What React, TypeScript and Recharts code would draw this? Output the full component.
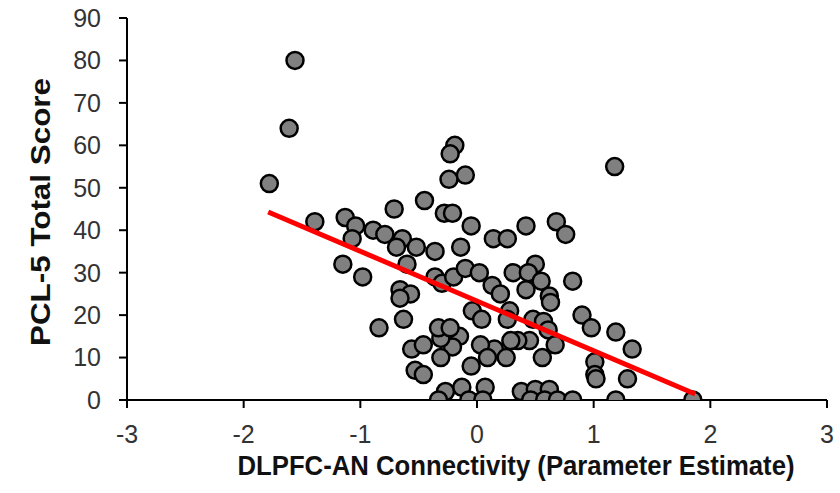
import React from 'react';
import { ScatterChart, Scatter, XAxis, YAxis, Label } from 'recharts';

// DLPFC-AN connectivity (x) and PCL-5 total score (y), one entry per participant
const connectivity = [
    -1.56, -1.61, -1.78, -0.19, -0.23, -0.24, -0.10, -0.45, -0.71, -0.28,
    -0.21, -0.05, 0.42, -1.39, -1.13, -1.04, -1.07, -0.89, -0.79, -0.64,
    -0.69, -0.52, -0.36, -0.14, 0.14, 0.26, 0.68, 0.76, 1.18, -1.15,
    -0.98, -0.60, -0.66, -0.57, -0.66, -0.36, -0.30, -0.20, -0.10, 0.02,
    0.13, 0.20, 0.31, 0.50, 0.44, 0.55, 0.42, 0.62, 0.63, 0.82,
    -0.04, 0.04, 0.28, 0.26, 0.48, 0.57, 0.61, 0.90, 0.98, 1.19,
    1.33, 1.01, 1.01, 1.02, 1.29, 0.67, 0.56, 0.45, 0.35, 0.29,
    0.15, 0.03, 0.09, 0.25, -0.05, -0.15, -0.21, -0.31, -0.31, -0.33,
    -0.23, -0.84, -0.63, -0.56, -0.46, -0.53, -0.46, -0.27, -0.13, 0.07,
    0.38, 0.50, 0.62, -0.33, -0.07, 0.05, 0.46, 0.58, 0.69, 0.82,
    1.19, 1.85
];
const pclScore = [
    80, 64, 51, 60, 58, 52, 53, 47, 45, 44,
    44, 41, 41, 42, 43, 41, 38, 40, 39, 38,
    36, 36, 35, 36, 38, 38, 42, 39, 55, 32,
    29, 32, 26, 25, 24, 29, 27.5, 29, 31, 30,
    27, 25, 30, 32, 30, 28, 26, 24.5, 23, 28,
    21, 19, 21, 19, 19, 18.5, 16.5, 20, 17, 16,
    12, 9, 6, 5, 5, 13, 10, 14, 14, 14,
    12, 13, 10, 10, 8, 15, 12.5, 14.5, 10, 17,
    17, 17, 19, 12, 13, 7, 6, 2, 3, 3,
    2, 2.5, 2.5, 0, 0, 0, 0, 0, 0, 0,
    0, 0
];

// fitted regression line end points
const trendX = [-1.79, 1.87];
const trendY = [44.3, 1.4];

const xTicks = [-3, -2, -1, 0, 1, 2, 3];
const yTicks = [0, 10, 20, 30, 40, 50, 60, 70, 80, 90];

const points = connectivity.map((x, i) => ({ x, y: pclScore[i] }));
const trend = trendX.map((x, i) => ({ x, y: trendY[i] }));

const font = '"Liberation Sans", Arial, sans-serif';

const Dot = (props: any) => (
    <circle cx={props.cx} cy={props.cy} r={8.5} fill="#808080" stroke="#000" strokeWidth={2.5} />
);

const NoShape = () => <g />;

export default function App() {
    return (
        <div style={{ position: 'absolute', left: 0, top: 0, width: 840, height: 493, background: '#fff' }}>
            <ScatterChart width={840} height={493} margin={{ top: 18, right: 13, bottom: 0, left: 0 }}>
                <XAxis
                    type="number"
                    dataKey="x"
                    domain={[-3, 3]}
                    ticks={xTicks}
                    height={93}
                    axisLine={{ stroke: '#000', strokeWidth: 2 }}
                    tickLine={{ stroke: '#000', strokeWidth: 2 }}
                    tickSize={8}
                    tickMargin={17}
                    tick={{ fill: '#333', fontSize: 25, fontFamily: font }}
                    allowDataOverflow
                >
                    <Label
                        content={(p: any) => {
                            const vb = p.viewBox;
                            return (
                                <text x={516} y={vb.y + vb.height - 18} textAnchor="middle"
                                    fontSize={27} fontWeight="bold" fontFamily={font} fill="#111"
                                    textLength={557} lengthAdjust="spacingAndGlyphs">
                                    DLPFC-AN Connectivity (Parameter Estimate)
                                </text>
                            );
                        }}
                    />
                </XAxis>
                <YAxis
                    type="number"
                    dataKey="y"
                    domain={[0, 90]}
                    ticks={yTicks}
                    width={127}
                    axisLine={{ stroke: '#000', strokeWidth: 2 }}
                    tickLine={{ stroke: '#000', strokeWidth: 2 }}
                    tickSize={8}
                    tickMargin={18}
                    tick={{ fill: '#333', fontSize: 25, fontFamily: font }}
                    allowDataOverflow
                >
                    <Label
                        content={(p: any) => {
                            const vb = p.viewBox;
                            const cx = 41;
                            const cy = vb.y + vb.height / 2 + 3;
                            return (
                                <text x={cx} y={cy} transform={`rotate(-90 ${cx} ${cy})`} textAnchor="middle"
                                    dominantBaseline="central" fontSize={27} fontWeight="bold" fontFamily={font} fill="#111"
                                    textLength={268} lengthAdjust="spacingAndGlyphs">
                                    PCL-5 Total Score
                                </text>
                            );
                        }}
                    />
                </YAxis>
                <Scatter data={points} shape={<Dot />} isAnimationActive={false} />
                <Scatter
                    data={trend}
                    line={{ stroke: '#ff0000', strokeWidth: 5 }}
                    shape={<NoShape />}
                    isAnimationActive={false}
                />
            </ScatterChart>
        </div>
    );
}
